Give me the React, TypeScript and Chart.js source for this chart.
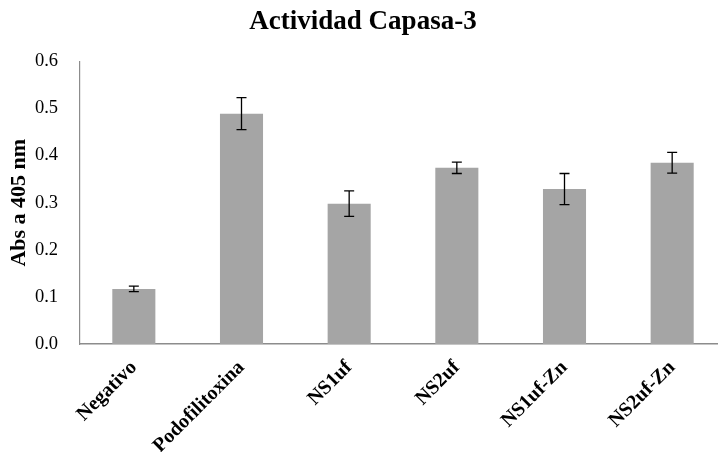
import React, { useEffect, useRef } from "react";
import { Chart, registerables } from "chart.js";

Chart.register(...registerables);

const categories = ["Negativo", "Podofilitoxina", "NS1uf", "NS2uf", "NS1uf-Zn", "NS2uf-Zn"];
const absValues = [0.117, 0.489, 0.298, 0.374, 0.329, 0.385];
const absErrors = [0.006, 0.034, 0.027, 0.012, 0.033, 0.022];
const chartTitle = "Actividad Capasa-3";
const yAxisTitle = "Abs a 405 nm";

const SERIF = "'Liberation Serif', 'Times New Roman', serif";

const errorBarPlugin = {
  id: "errorBars",
  afterDatasetsDraw(chart: any) {
    const ctx = chart.ctx;
    const meta = chart.getDatasetMeta(0);
    const yScale = chart.scales.y;
    ctx.save();
    ctx.strokeStyle = "#000";
    ctx.lineWidth = 1.3;
    meta.data.forEach((bar: any, i: number) => {
      const x = bar.x;
      const yTop = yScale.getPixelForValue(absValues[i] + absErrors[i]);
      const yBot = yScale.getPixelForValue(absValues[i] - absErrors[i]);
      const cap = 5;
      ctx.beginPath();
      ctx.moveTo(x, yTop);
      ctx.lineTo(x, yBot);
      ctx.moveTo(x - cap, yTop);
      ctx.lineTo(x + cap, yTop);
      ctx.moveTo(x - cap, yBot);
      ctx.lineTo(x + cap, yBot);
      ctx.stroke();
    });
    ctx.restore();
  },
};

export default function App() {
  const canvasRef = useRef<HTMLCanvasElement | null>(null);

  useEffect(() => {
    if (!canvasRef.current) return;
    const chart = new Chart(canvasRef.current, {
      type: "bar",
      data: {
        labels: categories,
        datasets: [
          {
            data: absValues,
            backgroundColor: "#a5a5a5",
            borderWidth: 0,
            barPercentage: 0.4,
            categoryPercentage: 1,
          },
        ],
      },
      options: {
        responsive: false,
        animation: false,
        devicePixelRatio: 1,
        layout: { padding: 0 },
        plugins: {
          legend: { display: false },
          tooltip: { enabled: false },
          title: {
            display: true,
            text: chartTitle,
            color: "#000",
            font: { family: SERIF, size: 27, weight: "bold" },
            padding: { top: 6, bottom: 23 },
          },
        },
        scales: {
          x: {
            grid: { display: false, drawTicks: false },
            border: { display: true, color: "#8c8c8c", width: 1.5 },
            ticks: {
              color: "#000",
              font: { family: SERIF, size: 20, weight: "bold" },
              minRotation: 45,
              maxRotation: 45,
              padding: 12,
              autoSkip: false,
            },
            afterFit(scale: any) {
              scale.height = 108;
            },
          },
          y: {
            min: 0,
            max: 0.6,
            grid: { display: false, drawTicks: false },
            border: { display: true, color: "#8c8c8c", width: 1.2 },
            ticks: {
              stepSize: 0.1,
              color: "#000",
              font: { family: SERIF, size: 18.5 },
              padding: 22,
              callback: (v: any) => Number(v).toFixed(1),
            },
            title: {
              display: true,
              text: yAxisTitle,
              color: "#000",
              font: { family: SERIF, size: 22, weight: "bold" },
              padding: { top: 6, bottom: 0 },
            },
            afterFit(scale: any) {
              scale.width = 80;
            },
          },
        },
      },
      plugins: [errorBarPlugin],
    } as any);
    return () => chart.destroy();
  }, []);

  return (
    <div
      style={{
        position: "fixed",
        left: 0,
        top: 0,
        width: 718,
        height: 452,
        overflow: "hidden",
        background: "#fff",
      }}
    >
      <canvas ref={canvasRef} width={726} height={452} style={{ display: "block", width: 726, height: 452 }} />
    </div>
  );
}
